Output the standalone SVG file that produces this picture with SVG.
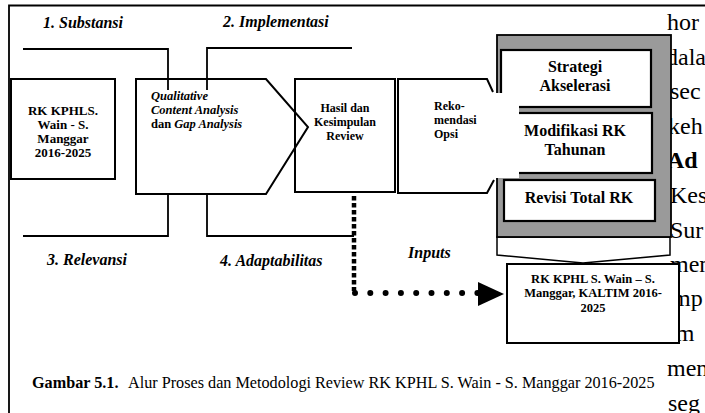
<svg xmlns="http://www.w3.org/2000/svg" width="705" height="413" viewBox="0 0 705 413">
<style>
text{font-family:"Liberation Serif","Times New Roman",serif;fill:#000}
.bg{font-size:24px}
.lbl{font-size:16px;font-weight:bold;font-style:italic}
.b{font-weight:bold}
.i{font-style:italic}
.box{fill:none;stroke:#000;stroke-width:2}
.wbox{fill:#fff;stroke:#000;stroke-width:2.2}
.ln{fill:none;stroke:#000;stroke-width:1.8}
.mid{text-anchor:middle}
</style>
<rect width="705" height="413" fill="#fff"/>
<g id="page-text" class="bg">
<text x="667" y="30">hor</text>
<text x="666" y="65">dala</text>
<text x="670" y="99">sec</text>
<text x="668" y="134">keh</text>
<text x="667" y="168" class="b">Ad</text>
<text x="670" y="203">Kes</text>
<text x="670" y="238">Sur</text>
<text x="670" y="272">men</text>
<text x="672" y="306">mp</text>
<text x="669" y="341">im</text>
<text x="667" y="376">men</text>
<text x="668" y="411">seg</text>
</g>
<g id="frame"><path class="ln" d="M9,413 V5.5 H705"/></g>
<g id="connectors">
<path class="ln" d="M23,49 H168 V90"/>
<path class="ln" d="M207,90 V48 H352"/>
<path class="ln" d="M23,236 H168 V194"/>
<path class="ln" d="M207,194 V236 H354"/>
<path d="M354,196 V291" fill="none" stroke="#000" stroke-width="4.5" stroke-dasharray="4.5 2.5"/>
<path d="M355,293 H478" fill="none" stroke="#000" stroke-width="6" stroke-linecap="round" stroke-dasharray="0 15.3"/>
<polygon points="478,282 504,294 478,306" fill="#000"/>
<text x="408" y="258" class="lbl">Inputs</text>
</g>
<g id="labels">
<text x="43" y="28" class="lbl">1. Substansi</text>
<text x="223" y="27" class="lbl">2. Implementasi</text>
<text x="47" y="265" class="lbl">3. Relevansi</text>
<text x="220" y="266" class="lbl">4. Adaptabilitas</text>
</g>
<g id="node-rk-source">
<rect class="box" x="11" y="79" width="104" height="100"/>
<text class="b mid" font-size="13" x="63"><tspan x="63" y="115">RK KPHLS.</tspan><tspan x="63" y="129">Wain - S.</tspan><tspan x="63" y="143">Manggar</tspan><tspan x="63" y="157">2016-2025</tspan></text>
</g>
<g id="node-analysis">
<polygon class="box" points="136,79 266,79 308,127 266,194 136,194"/>
<text class="b i" font-size="12.5"><tspan x="151" y="100">Qualitative</tspan><tspan x="151" y="114">Content Analysis</tspan><tspan x="151" y="128" font-style="normal">dan </tspan><tspan>Gap Analysis</tspan></text>
</g>
<g id="node-hasil">
<rect class="box" x="295" y="79" width="100" height="113"/>
<text class="b mid" font-size="12"><tspan x="345" y="112">Hasil dan</tspan><tspan x="345" y="126">Kesimpulan</tspan><tspan x="345" y="140">Review</tspan></text>
</g>
<g id="node-options">
<path d="M497,237 V255 L583,263 L670,255 V237 Z" fill="#fff" stroke="#000" stroke-width="1.5"/>
<rect x="497" y="35" width="174" height="202" fill="#9a9a9a" stroke="#000" stroke-width="1.8"/>
<rect class="wbox" x="501" y="50" width="150" height="57"/>
<rect class="wbox" x="501" y="113" width="151" height="60"/>
<rect class="wbox" x="504" y="180" width="151" height="41"/>
<text class="b mid" font-size="16"><tspan x="575" y="72">Strategi</tspan><tspan x="575" y="91">Akselerasi</tspan></text>
<text class="b mid" font-size="16"><tspan x="575" y="136">Modifikasi RK</tspan><tspan x="575" y="155">Tahunan</tspan></text>
<text class="b mid" font-size="16" x="579" y="203">Revisi Total RK</text>
</g>
<g id="node-rekomendasi">
<rect x="491" y="93" width="28" height="85" fill="#fff"/>
<path class="box" d="M493,92 L487,79 H398 V193 H487 L494,180"/>
<text class="b" font-size="12"><tspan x="434" y="110">Reko-</tspan><tspan x="434" y="124">mendasi</tspan><tspan x="434" y="138">Opsi</tspan></text>
</g>
<g id="node-rk-result">
<rect x="507" y="264" width="172" height="79" fill="#fff" stroke="#000" stroke-width="2"/>
<text class="b mid" font-size="12.5"><tspan x="593" y="283">RK KPHL S. Wain – S.</tspan><tspan x="593" y="297">Manggar, KALTIM 2016-</tspan><tspan x="593" y="312">2025</tspan></text>
</g>
<g id="caption">
<text font-size="16.2" y="388"><tspan x="32" class="b">Gambar 5.1.</tspan><tspan x="128">Alur Proses dan Metodologi Review RK KPHL S. Wain - S. Manggar 2016-2025</tspan></text>
</g>
</svg>
